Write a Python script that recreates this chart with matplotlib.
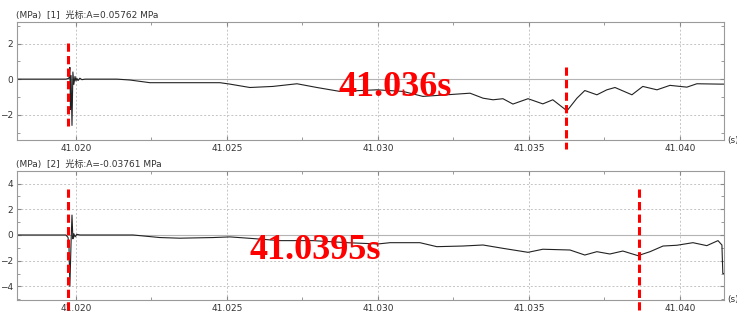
import matplotlib
matplotlib.use("Agg")
import matplotlib.pyplot as plt
import numpy as np

# channel 1 (trace)
t1 = [41.01805, 41.01967, 41.01977, 41.01980, 41.01982, 41.01984, 41.01987, 41.01990,
      41.01993, 41.01997, 41.02000, 41.02003, 41.02007, 41.02013, 41.02020, 41.02030,
      41.02136, 41.02179, 41.02245, 41.02311, 41.02477, 41.02510, 41.02576, 41.02652,
      41.02732, 41.02798, 41.02874, 41.02997, 41.03083, 41.03149, 41.03262, 41.03305,
      41.03348, 41.03381, 41.03414, 41.03447, 41.03497, 41.03546, 41.03579, 41.03626,
      41.03659, 41.03685, 41.03725, 41.03758, 41.03785, 41.03811, 41.03841, 41.03877,
      41.03924, 41.03967, 41.04023, 41.04056, 41.04132, 41.04146]
p1 = [0.0, 0.0, 0.05, 0.66, -1.7, 0.2, -2.6, 0.4,
      -0.3, 0.15, -0.1, 0.05, -0.08, 0.05, -0.03, 0.0,
      0.0, -0.05, -0.2, -0.2, -0.2, -0.28, -0.47, -0.41,
      -0.26, -0.47, -0.69, -0.6, -0.69, -0.97, -0.84, -0.79,
      -1.07, -1.16, -1.1, -1.4, -1.1, -1.39, -1.16, -1.78,
      -1.07, -0.64, -0.88, -0.6, -0.47, -0.66, -0.88, -0.41,
      -0.6, -0.35, -0.45, -0.26, -0.28, -0.28]

# channel 2
t2 = [41.01805, 41.01967, 41.01974, 41.01977, 41.01980, 41.01984, 41.01987, 41.01990,
      41.01993, 41.01997, 41.02003, 41.02013, 41.02189, 41.02278, 41.02344, 41.02454,
      41.02510, 41.02576, 41.02675, 41.02785, 41.02897, 41.03000, 41.03040, 41.03139,
      41.03195, 41.03281, 41.03348, 41.03414, 41.03497, 41.03546, 41.03636, 41.03685,
      41.03725, 41.03768, 41.03811, 41.03861, 41.03901, 41.03944, 41.03990, 41.04043,
      41.04089, 41.04126, 41.04139, 41.04142, 41.04146]
p2 = [0.0, 0.0, -0.2, -0.9, -4.0, -0.5, 1.55, -0.3,
      0.1, -0.15, 0.05, 0.0, 0.0, -0.2, -0.25, -0.2,
      -0.15, -0.26, -0.44, -0.44, -0.6, -0.7, -0.6, -0.6,
      -0.91, -0.86, -0.78, -1.04, -1.35, -1.11, -1.17, -1.56,
      -1.3, -1.48, -1.25, -1.61, -1.3, -0.86, -0.8, -0.6,
      -0.83, -0.44, -0.78, -3.0, -3.0]

titles = ["(MPa)  [1]  光标:A=0.05762 MPa", "(MPa)  [2]  光标:A=-0.03761 MPa"]
ylims = [(-3.42, 3.21), (-5.06, 4.98)]
yticks = [[-2, 0, 2], [-4, -2, 0, 2, 4]]
ymin_ticks = [[-3, -1, 1, 3], [-5, -3, -1, 1, 3]]
xticks = [41.020, 41.025, 41.030, 41.035, 41.040]
xmin_ticks = [41.0225, 41.0275, 41.0325, 41.0375]

# red markers: x position, y range, label text and its position
marks_x = [[41.01974, 41.03623], [41.01974, 41.03864]]
marks_y = [[(2.02, -2.64), (0.67, -3.93)], [(3.58, -5.84), (3.58, -5.84)]]
labels = ["41.036s", "41.0395s"]
label_pos = [(41.02871, -0.45), (41.02576, -1.17)]

fig = plt.figure(figsize=(7.37, 3.11), dpi=100)
boxes = [[0.0231, 0.5498, 0.9593, 0.3795], [0.0231, 0.0354, 0.9593, 0.4148]]
fonts = ["DejaVu Sans", "Noto Sans CJK SC"]

for i, (t, p) in enumerate([(t1, p1), (t2, p2)]):
    ax = fig.add_axes(boxes[i])
    ax.set_xticks(xticks)
    ax.set_xticks(xmin_ticks, minor=True)
    ax.set_xticklabels(["%.3f" % v for v in xticks])
    ax.set_yticks(yticks[i])
    ax.set_yticks(ymin_ticks[i], minor=True)
    ax.set_xlim(41.01805, 41.04146)
    ax.set_ylim(*ylims[i])
    ax.tick_params(which="both", direction="in", top=True, right=True,
                   colors="#888888", labelcolor="#333333", labelsize=6.5, pad=3)
    ax.tick_params(which="major", length=3)
    ax.tick_params(which="minor", length=2)
    for s in ax.spines.values():
        s.set_color("#9a9a9a")
        s.set_linewidth(0.8)
    for v in xticks:
        ax.axvline(v, color="#c4c4c4", lw=0.7, ls=(0, (2, 2)), zorder=0)
    for v in yticks[i]:
        if v == 0:
            ax.axhline(0, color="#b4b4b4", lw=0.8, zorder=0)
        else:
            ax.axhline(v, color="#c4c4c4", lw=0.7, ls=(0, (2, 2)), zorder=0)
    ax.plot(t, p, color="#222222", lw=0.8)
    for mx, (ya, yb) in zip(marks_x[i], marks_y[i]):
        ax.plot([mx, mx], [ya, yb], color="#ff0000", lw=2.2,
                ls=(0, (2.7, 1.4)), clip_on=False, zorder=5)
    ax.text(label_pos[i][0], label_pos[i][1], labels[i], color="#ff0000",
            fontsize=26, fontweight="bold", family="Liberation Serif",
            va="center", ha="left", zorder=6)
    ax.text(-0.002, 1.015, titles[i], transform=ax.transAxes, fontsize=6.5,
            family=fonts, color="#333333", va="bottom", ha="left")
    ax.text(1.004, 0.0, "(s)", transform=ax.transAxes, fontsize=6.5,
            color="#333333", va="center", ha="left")

fig.savefig("out.png", dpi=100)
